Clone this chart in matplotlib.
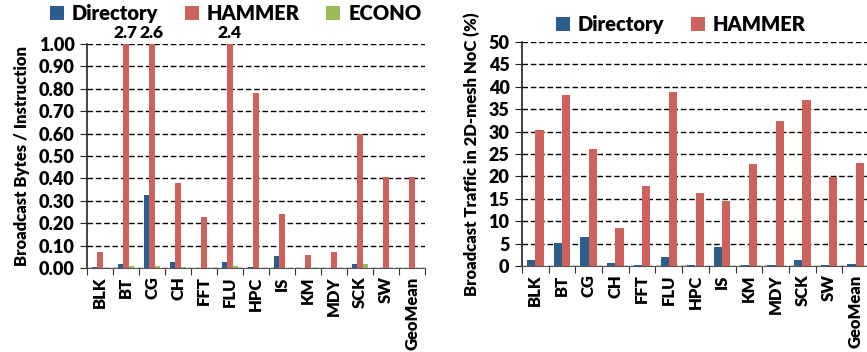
import matplotlib
matplotlib.use("Agg")
import matplotlib.pyplot as plt
import numpy as np

plt.rcParams['font.family'] = ['Lato', 'DejaVu Sans']
W = 'heavy'
plt.rcParams['font.weight'] = W

categories = ["BLK", "BT", "CG", "CH", "FFT", "FLU", "HPC", "IS", "KM", "MDY", "SCK", "SW", "GeoMean"]

# Left: broadcast bytes / instruction
left_directory = [0.003, 0.018, 0.325, 0.025, 0.002, 0.025, 0.003, 0.052, 0.002, 0.002, 0.018, 0.002, 0.002]
left_hammer = [0.072, 2.7, 2.6, 0.38, 0.227, 2.4, 0.78, 0.242, 0.058, 0.072, 0.60, 0.405, 0.405]
left_econo = [0.002, 0.010, 0.010, 0.003, 0.002, 0.010, 0.002, 0.002, 0.002, 0.002, 0.018, 0.002, 0.002]
left_yticks = [0.0, 0.1, 0.2, 0.3, 0.4, 0.5, 0.6, 0.7, 0.8, 0.9, 1.0]

# Right: broadcast traffic in 2D-mesh NoC (%)
right_directory = [1.3, 5.2, 6.5, 0.6, 0.3, 1.9, 0.3, 4.2, 0.3, 0.3, 1.3, 0.3, 0.5]
right_hammer = [30.4, 38.2, 26.1, 8.5, 17.9, 38.9, 16.3, 14.4, 22.8, 32.4, 37.0, 19.9, 23.1]
right_yticks = [0, 5, 10, 15, 20, 25, 30, 35, 40, 45, 50]

C_DIR = "#2B5D8F"
C_HAM = "#CD625D"
C_ECO = "#9BBB59"

fig = plt.figure(figsize=(8.67, 3.52), dpi=100)

def style_axes(ax, ymax):
    n = len(categories)
    ax.set_xlim(-0.5, n - 0.5)
    ax.set_ylim(0, ymax)
    for s in ['top', 'right']:
        ax.spines[s].set_visible(False)
    ax.spines['left'].set_color('#222222')
    ax.spines['bottom'].set_color('#555555')
    ax.spines['left'].set_linewidth(1.2)
    ax.yaxis.grid(True, linestyle=(0, (4, 2)), color='black', linewidth=1.0)
    ax.set_axisbelow(True)
    ax.set_xticks(np.arange(n + 1) - 0.5)
    ax.set_xticklabels([])
    ax.set_xticks(np.arange(n), minor=True)
    ax.set_xticklabels(categories, minor=True, rotation=90, fontsize=12, fontweight=W)
    ax.tick_params(axis='x', which='minor', length=0, pad=6)
    ax.tick_params(axis='x', which='major', length=5, direction='out', color='#333333')
    ax.tick_params(axis='y', length=5, direction='out', color='#222222', labelsize=13, pad=4)
    for t in ax.get_yticklabels():
        t.set_fontweight(W)

x = np.arange(len(categories))

# Left chart
ax1 = fig.add_axes([87/867, 84/352, 338/867, 224/352])
w1 = 0.21
ax1.bar(x - w1, left_directory, w1, color=C_DIR, label="Directory", zorder=3)
ax1.bar(x, left_hammer, w1, color=C_HAM, label="HAMMER", zorder=3)
ax1.bar(x + w1, left_econo, w1, color=C_ECO, label="ECONO", zorder=3)
ax1.set_yticks(left_yticks)
ax1.set_yticklabels([f"{v:.2f}" for v in left_yticks])
style_axes(ax1, 1.0)
ax1.set_ylabel("Broadcast Bytes / Instruction", fontsize=12, fontweight=W, labelpad=6)
for i, v in enumerate(left_hammer):
    if v > 1.0:
        ax1.text(x[i], 1.015, f"{v:.1f}", ha='center', va='bottom', fontsize=12.5, fontweight=W)
ax1.legend(loc='center', bbox_to_anchor=(0.44, 1.134), ncol=3, frameon=False,
           handlelength=0.7, handleheight=0.7, handletextpad=0.4, columnspacing=1.3,
           prop={'weight': W, 'size': 14.5}, borderpad=0)

# Right chart
ax2 = fig.add_axes([522/867, 86/352, 347/867, 224/352])
w2 = 0.31
ax2.bar(x - w2/2, right_directory, w2, color=C_DIR, label="Directory", zorder=3)
ax2.bar(x + w2/2, right_hammer, w2, color=C_HAM, label="HAMMER", zorder=3)
ax2.set_yticks(right_yticks)
ax2.set_yticklabels([str(v) for v in right_yticks])
style_axes(ax2, 50)
ax2.set_ylabel("Broadcast Traffic in 2D-mesh NoC (%)", fontsize=12, fontweight=W, labelpad=6)
ax2.legend(loc='center', bbox_to_anchor=(0.458, 1.076), ncol=2, frameon=False,
           handlelength=0.7, handleheight=0.7, handletextpad=0.4, columnspacing=1.3,
           prop={'weight': W, 'size': 14.5}, borderpad=0)

fig.savefig("out.png", dpi=100)
